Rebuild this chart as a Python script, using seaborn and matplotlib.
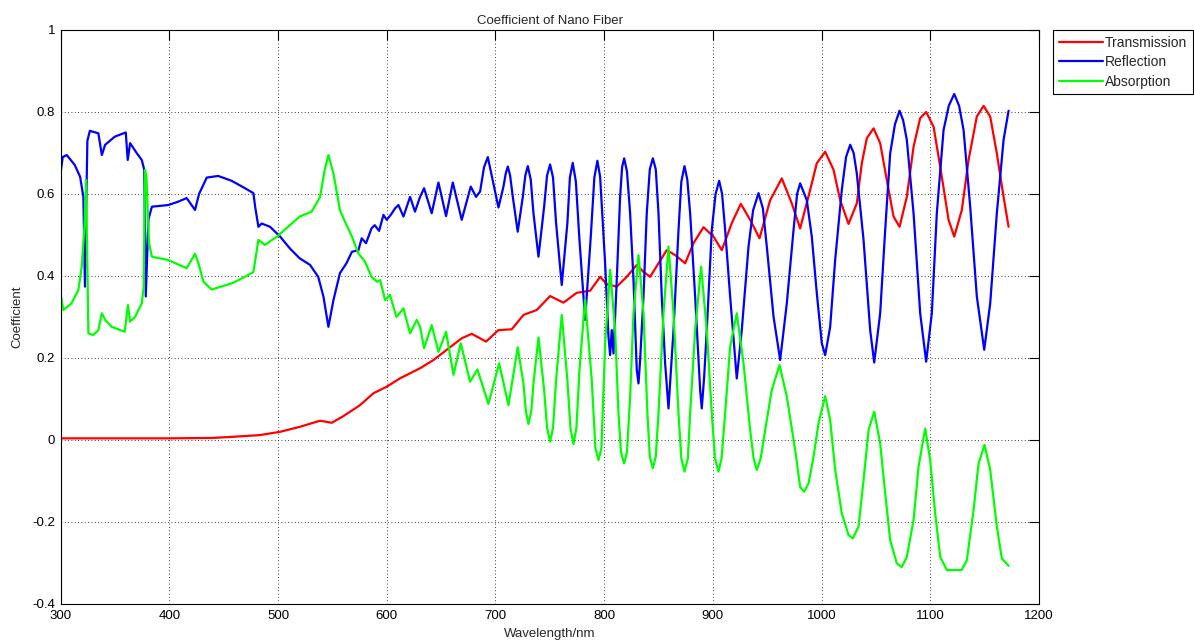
import numpy as np
import pandas as pd
import seaborn as sns
import matplotlib.pyplot as plt

#
# DATA: (wavelength, coefficient)
#

transmission = [
    (300, 0.004), (350, 0.004), (400, 0.004), (440, 0.005), (460, 0.008), (483.5, 0.012),
    (502, 0.02), (520, 0.032), (538.7, 0.047), (549.5, 0.042), (560, 0.058), (575.5, 0.085),
    (587.8, 0.114), (600, 0.13), (612, 0.15), (630.7, 0.175), (643, 0.195), (655.2, 0.22),
    (669, 0.248), (678.2, 0.259), (691.4, 0.24), (702.8, 0.268), (715, 0.27), (725.8, 0.305),
    (738, 0.317), (750.3, 0.351), (762.6, 0.335), (774.8, 0.359), (787.1, 0.364), (796.3, 0.398),
    (802.4, 0.38), (811.6, 0.374), (820.8, 0.398), (830, 0.427), (836.2, 0.41), (842.3, 0.398),
    (850, 0.431), (857.6, 0.463), (865.3, 0.451), (874.5, 0.431), (882.2, 0.48), (891.4, 0.519),
    (900.6, 0.496), (908.2, 0.463), (917.4, 0.529), (925.7, 0.576), (934.3, 0.537), (942.9, 0.492),
    (952.7, 0.585), (963.4, 0.638), (972.6, 0.577), (980.3, 0.516), (989.5, 0.61), (995.6, 0.675),
    (1003.3, 0.703), (1011, 0.659), (1017.1, 0.585), (1024.8, 0.527), (1032.4, 0.577), (1037, 0.675),
    (1041.6, 0.736), (1047.8, 0.76), (1053.9, 0.724), (1060, 0.634), (1066.2, 0.545), (1071.7, 0.52),
    (1078.4, 0.593), (1084.6, 0.715), (1090.7, 0.785), (1096.2, 0.80), (1103, 0.764), (1109.1, 0.667),
    (1116.8, 0.537), (1122, 0.496), (1129, 0.561), (1135.2, 0.683), (1142.8, 0.789), (1149, 0.815),
    (1155.1, 0.789), (1161.2, 0.699), (1167.4, 0.593), (1172, 0.52),
]

reflection = [
    (300, 0.65), (302, 0.69), (305.7, 0.695), (313, 0.671), (318, 0.642), (321, 0.593), (322.5, 0.374),
    (323.5, 0.55), (324.7, 0.73), (327, 0.754), (334.8, 0.748), (338, 0.695), (341, 0.72), (350, 0.74),
    (360, 0.75), (361.8, 0.683), (364, 0.724), (370, 0.70), (374.7, 0.683), (377, 0.659), (378.4, 0.35),
    (380.8, 0.537), (384, 0.569), (399, 0.573), (408, 0.581), (416, 0.59), (423.7, 0.561), (427.4, 0.60),
    (434.5, 0.64), (445, 0.644), (457.5, 0.632), (469.7, 0.614), (477.4, 0.602), (479, 0.569), (482, 0.52),
    (485, 0.528), (492.7, 0.52), (502, 0.496), (511, 0.467), (520, 0.443), (529.5, 0.427), (537, 0.398),
    (541.8, 0.35), (546.4, 0.276), (551, 0.341), (557, 0.407), (563, 0.431), (568, 0.459), (574, 0.463),
    (577, 0.492), (581, 0.48), (586, 0.516), (589, 0.524), (593, 0.51), (597, 0.549), (600, 0.537),
    (604, 0.55), (607.7, 0.565), (610.8, 0.573), (615.4, 0.545), (621.5, 0.593), (626, 0.557),
    (630.7, 0.593), (634.4, 0.614), (641.4, 0.553), (647.6, 0.628), (654.6, 0.546), (660.8, 0.628),
    (669, 0.537), (677.3, 0.618), (682.2, 0.593), (685.9, 0.606), (689.5, 0.665), (693, 0.69),
    (697.5, 0.634), (702.8, 0.567), (707.4, 0.618), (709.5, 0.65), (711.4, 0.667), (713.5, 0.645),
    (716, 0.593), (720.5, 0.508), (725.2, 0.593), (727.5, 0.645), (729.8, 0.668), (732.5, 0.635),
    (735, 0.553), (739.6, 0.447), (744.8, 0.569), (747.5, 0.645), (750.3, 0.672), (753, 0.64),
    (755.8, 0.529), (761, 0.378), (766.2, 0.529), (768.5, 0.64), (771.1, 0.676), (774, 0.63),
    (777.3, 0.488), (782.5, 0.293), (787.7, 0.496), (791, 0.64), (793.8, 0.681), (796.3, 0.642),
    (800.9, 0.431), (804, 0.252), (805.5, 0.207), (807, 0.268), (808.6, 0.211), (811.6, 0.39),
    (814.7, 0.593), (816.5, 0.665), (818.4, 0.687), (821, 0.655), (823.9, 0.553), (827, 0.39),
    (830, 0.171), (831.6, 0.138), (833.1, 0.195), (836.2, 0.35), (839.2, 0.553), (842, 0.66),
    (844.8, 0.687), (847.5, 0.66), (850, 0.553), (853, 0.35), (856.1, 0.187), (859.2, 0.077),
    (860.7, 0.138), (863.8, 0.268), (868.4, 0.512), (871, 0.63), (873.9, 0.668), (876.5, 0.635),
    (879.1, 0.553), (883.7, 0.35), (888.3, 0.122), (889.8, 0.077), (892, 0.154), (894.4, 0.268),
    (899, 0.512), (902.5, 0.6), (905.8, 0.632), (908.5, 0.6), (911.3, 0.512), (915.9, 0.35),
    (922, 0.15), (926.6, 0.268), (932.8, 0.472), (937, 0.56), (942, 0.602), (946, 0.565),
    (949.6, 0.472), (955.8, 0.301), (961.9, 0.195), (968, 0.333), (974.2, 0.512), (977.5, 0.6),
    (980.3, 0.626), (986.4, 0.585), (991, 0.496), (995.6, 0.358), (1000.2, 0.236), (1003.3, 0.207),
    (1007.9, 0.276), (1012.5, 0.439), (1018.6, 0.61), (1022.5, 0.69), (1026.3, 0.72), (1029.5, 0.70),
    (1032.4, 0.65), (1038.6, 0.488), (1044.7, 0.268), (1048.4, 0.189), (1053.9, 0.309), (1058.5, 0.512),
    (1063.1, 0.699), (1067.5, 0.77), (1071.7, 0.803), (1075, 0.78), (1078.4, 0.732), (1084.6, 0.553),
    (1090.7, 0.309), (1096.2, 0.191), (1101.4, 0.309), (1106, 0.553), (1112.2, 0.756), (1117, 0.815),
    (1122, 0.844), (1126.5, 0.815), (1130.6, 0.756), (1136.7, 0.569), (1142.8, 0.35), (1149.6, 0.22),
    (1155.1, 0.333), (1161.2, 0.553), (1167.4, 0.732), (1172, 0.803),
]

absorption = [
    (300, 0.358), (302.6, 0.317), (310, 0.333), (316.4, 0.366), (319.5, 0.423), (322, 0.52),
    (323.5, 0.634), (324.5, 0.45), (325.6, 0.26), (330, 0.256), (334.8, 0.268), (338, 0.309),
    (341, 0.293), (347, 0.276), (359, 0.264), (362, 0.329), (364, 0.289), (368.5, 0.30), (374.7, 0.333),
    (376.5, 0.374), (377.7, 0.659), (379, 0.64), (381.4, 0.48), (384, 0.447), (399, 0.439), (416, 0.419),
    (423.7, 0.454), (427, 0.43), (431.4, 0.386), (439, 0.367), (457.5, 0.382), (469.7, 0.398),
    (477.4, 0.41), (482, 0.488), (488, 0.476), (499, 0.496), (520, 0.545), (531, 0.557), (538.7, 0.593),
    (543, 0.659), (546.4, 0.695), (551, 0.65), (557, 0.561), (561.7, 0.532), (568, 0.496), (574, 0.455),
    (580, 0.435), (586, 0.398), (591, 0.386), (594, 0.39), (598.5, 0.341), (603, 0.354), (609, 0.30),
    (615.4, 0.321), (621.5, 0.26), (627.7, 0.293), (630.7, 0.276), (634.4, 0.224), (641.4, 0.28),
    (647.6, 0.215), (654.6, 0.264), (661.4, 0.159), (668.1, 0.236), (676.7, 0.142), (683.4, 0.172),
    (693.6, 0.088), (703.4, 0.187), (712, 0.085), (720.5, 0.226), (725.8, 0.138), (728, 0.07),
    (730.4, 0.039), (733, 0.07), (735, 0.138), (739.6, 0.25), (744.8, 0.122), (747.5, 0.03),
    (750.3, -0.004), (753, 0.03), (755.8, 0.146), (761, 0.305), (766.2, 0.146), (769, 0.03),
    (771.8, -0.01), (774.5, 0.03), (777.3, 0.171), (782.5, 0.343), (788.6, 0.146), (792, -0.02),
    (794.8, -0.049), (797.5, -0.02), (799.4, 0.12), (801, 0.24), (805.5, 0.415), (810.1, 0.268),
    (813.2, 0.065), (815.5, -0.03), (818.4, -0.057), (821, -0.03), (823.9, 0.106), (827, 0.309),
    (831.6, 0.451), (836.2, 0.309), (839.8, 0.065), (842, -0.04), (844.8, -0.069), (847.5, -0.04),
    (850, 0.065), (854.6, 0.309), (859.2, 0.472), (863.8, 0.309), (868.4, 0.065), (871, -0.045),
    (873.9, -0.077), (877, -0.045), (879.1, 0.065), (883.7, 0.268), (889.2, 0.423), (894.4, 0.268),
    (899, 0.065), (902, -0.045), (905.2, -0.077), (908, -0.045), (911.3, 0.065), (915.9, 0.228),
    (922, 0.309), (928.2, 0.187), (934.3, 0.024), (937.5, -0.045), (940.4, -0.073), (944, -0.045),
    (948.1, 0.024), (954.2, 0.122), (961.3, 0.183), (968, 0.106), (975.7, -0.024), (980.3, -0.115),
    (984, -0.126), (988, -0.106), (992.6, -0.041), (997.2, 0.041), (1003.3, 0.107), (1007.9, 0.049),
    (1012.5, -0.073), (1018.6, -0.179), (1024.8, -0.232), (1028.8, -0.24), (1034, -0.211),
    (1038.6, -0.098), (1043.2, 0.024), (1048.4, 0.069), (1053.9, -0.008), (1058.5, -0.13),
    (1063.1, -0.244), (1069.2, -0.301), (1073.8, -0.31), (1078.4, -0.285), (1084.6, -0.195),
    (1089.2, -0.065), (1095.3, 0.028), (1099.9, -0.049), (1104.5, -0.179), (1109.1, -0.285),
    (1115.2, -0.317), (1129, -0.317), (1133.6, -0.293), (1139.8, -0.171), (1144.4, -0.057),
    (1149.9, -0.012), (1155.1, -0.073), (1161.2, -0.211), (1165.8, -0.289), (1172, -0.307),
]

series_names = ["Transmission", "Reflection", "Absorption"]
series_colors = ["#ff0000", "#0000ff", "#00ff00"]

x_ticks = [300, 400, 500, 600, 700, 800, 900, 1000, 1100, 1200]
y_ticks = [-0.4, -0.2, 0, 0.2, 0.4, 0.6, 0.8, 1]
y_tick_labels = ["-0.4", "-0.2", "0", "0.2", "0.4", "0.6", "0.8", "1"]


#
# PLOT
#

sns.set_style("white")
plt.rcParams["font.family"] = ["Liberation Sans", "DejaVu Sans"]
config = {"fontsize": 9.5}

frames = [pd.DataFrame(s, columns=["wl", "coef"]) for s in (transmission, reflection, absorption)]

f, ax = plt.subplots(figsize=(11.94, 6.42), dpi=100)
f.subplots_adjust(left=0.0507, right=0.8702, top=0.9533, bottom=0.0592)

for df, name, color in zip(frames, series_names, series_colors):
    sns.lineplot(x="wl", y="coef", data=df, ax=ax, sort=False, estimator=None,
                 color=color, linewidth=1.6, label=name)

ax.set_xlim(300, 1200)
ax.set_ylim(-0.4, 1)
ax.set_xticks(x_ticks)
ax.set_xticklabels([str(t) for t in x_ticks])
ax.set_yticks(y_ticks)
ax.set_yticklabels(y_tick_labels)
ax.tick_params(direction="in", length=7, width=0.8, labelsize=9.5,
               top=True, right=True, pad=4, colors="black")
ax.grid(True, color="black", linestyle=(0, (1, 3)), linewidth=0.6)
for s in ax.spines.values():
    s.set_visible(True)
    s.set_color("black")
    s.set_linewidth(0.8)

ax.set_title("Coefficient of Nano Fiber", pad=4, **config)
ax.set_xlabel("Wavelength/nm", labelpad=5, **config)
ax.set_ylabel("Coefficient", labelpad=6, **config)

ax.legend(loc="upper left", bbox_to_anchor=(1.0143, 0, 0.143, 1.0), mode="expand",
          borderaxespad=0, fancybox=False, edgecolor="black", framealpha=1,
          fontsize=10, handlelength=3.2, handletextpad=0.15, labelspacing=0.4,
          borderpad=0.4)
ax.get_legend().get_frame().set_linewidth(0.8)

f.savefig("out.png", dpi=100)
